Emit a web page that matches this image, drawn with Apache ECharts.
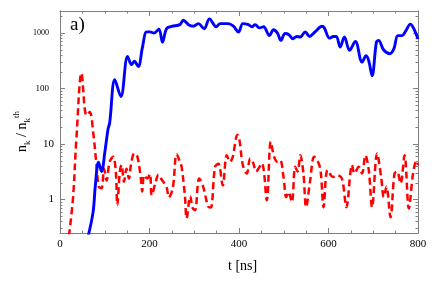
<!DOCTYPE html>
<html><head><meta charset="utf-8">
<script src="https://cdn.jsdelivr.net/npm/echarts@6/dist/echarts.min.js"></script>
<style>html,body{margin:0;padding:0;background:#fff}#c{width:436px;height:281px}</style>
</head><body><div id="c"></div>
<script>
var blueT=[63,74,79,86,93,100,107.5,111,122.5,136,151,160,166,175,184,193.5,201,210,221,229,238,249.5,268,275.5,288,298,309,322,334,349,358,376,387.5,399,408.5,421,428.7,436,446,455,468,477,486,493.5,503,511,520.5,529,537,548,557.7,570,585.5,590.6,602.5,611,617.5,626,635.5,647,660,675,684,690,697.4,707,712,723,737,746,755,764.5,772,783,790.6,800];
var blueV=[0.22,0.6,1.8,4.7,3.2,7,19,24,144,72,380,270,310,250,540,1050,1050,1000,1180,680,1200,1320,1420,1700,1400,1330,1480,1200,1800,1300,1480,1480,1330,1040,1480,1420,1300,1420,1240,1300,900,1150,1000,740,980,940,790,870,850,1050,870,1050,1330,1240,810,870,870,560,850,490,710,300,390,315,170,680,740,500,425,520,900,900,1070,1450,1200,780];
var redT=[20,29,36.7,48,59,66.5,74,81.5,86.7,92.7,98.5,104,111,118.7,124.7,128,133.7,137.5,143,148.7,154,158.5,166,173,180.7,183.7,188,195,201,205,214,220,227,238,243,252,260.7,268,272,279,283,291,296.5,301.7,311,320,331,337,346.5,354,363.7,372.7,380,386,396.5,401,408.5,417.5,425,432,438,451,462,471,478.5,486,492,499.5,505.5,510.7,518,525.6,531,537,544,550,559,568,578,583,589,598,610,619,630,640,652.6,658,667.5,675,682.5,690,697.4,708.6,717.6,723.5,729.5,738.5,747.5,753.4,761,770,779.5,789,796.6,800];
var redV=[0.22,1.05,12.7,190,33,38,16.7,4.2,1.7,1.6,3.6,2.2,4.8,5.9,3.2,0.8,3.2,4.2,2.1,3.6,2.4,4.2,6.8,5.9,2.4,1.4,2.75,2.4,2.9,1.2,2.1,2.8,2.3,1.7,1.1,1.6,6.6,4.8,3.8,1.2,0.46,1.15,0.7,0.64,2.4,1.7,0.75,0.72,3.9,4.4,1.8,6.3,4.8,5.9,14.8,11.8,4.2,2.95,5.5,4.5,3.2,4.5,0.97,11,5.9,4.8,5.1,2.56,1.11,1.37,0.9,3.9,3.2,6.3,2.95,0.73,2.2,5.9,4.5,2.95,0.73,3.4,2.56,2.75,2.4,0.73,4.2,2.95,3.9,2.95,6.3,3.4,0.73,6.8,2.56,1.11,1.7,0.48,2.95,3.2,1.95,6.3,0.69,2.95,5,4.2];
var xTicks=[0,200,400,600,800];
var yTicks=[1,10,100,1000];

function pairs(t,v){return t.map(function(x,i){return [x,v[i]];});}
var minorY=[];
[0.1,1,10,100,1000].forEach(function(d){for(var m=2;m<=9;m++){var v=m*d;if(v>=0.25&&v<=2500)minorY.push(v);}});
var FONT='Liberation Serif';
var AX='#808080';
function yAx(pos,major,labels){
  return {type:'log',logBase:10,min:0.25,max:2500,position:pos,
    axisLine:{show:true,lineStyle:{color:AX,width:1}},
    axisTick:{show:true,inside:true,length:major?5:2.5,customValues:major?yTicks:minorY,lineStyle:{color:AX}},
    axisLabel:labels?{show:true,customValues:yTicks,margin:6,color:'#000',
      formatter:function(v){var k=v>=1000?'a':(v>=100?'b':'c');return '{'+k+'|'+v+'}';},
      rich:{a:{fontFamily:FONT,fontSize:8,color:'#000',padding:[0,5,0,0]},b:{fontFamily:FONT,fontSize:9,color:'#000',padding:[0,5,0,0]},c:{fontFamily:FONT,fontSize:11,color:'#000'}}}:{show:false},
    splitLine:{show:false},minorTick:{show:false}};
}
function xAx(pos,labels){
  return {type:'value',min:0,max:800,interval:200,position:pos,
    axisLine:{show:true,lineStyle:{color:AX,width:1}},
    axisTick:{show:true,inside:true,length:5,lineStyle:{color:AX}},
    minorTick:{show:true,splitNumber:4,length:2.5,lineStyle:{color:AX}},
    axisLabel:labels?{show:true,margin:6,fontFamily:FONT,fontSize:11,color:'#000'}:{show:false},
    splitLine:{show:false},minorSplitLine:{show:false}};
}
var chart=echarts.init(document.getElementById('c'),null,{renderer:'canvas'});
chart.setOption({
  animation:false,
  grid:{left:60,right:18,top:11,bottom:48,containLabel:false},
  xAxis:[xAx('bottom',true),xAx('top',false)],
  yAxis:[yAx('left',true,true),yAx('left',false,false),yAx('right',true,false),yAx('right',false,false)],
  series:[
    {type:'line',data:pairs(blueT,blueV),xAxisIndex:0,yAxisIndex:0,showSymbol:false,smooth:0.35,
      lineStyle:{color:'#0000ff',width:2.9},clip:true,z:3},
    {type:'line',data:pairs(redT,redV),xAxisIndex:0,yAxisIndex:0,showSymbol:false,smooth:0.35,
      lineStyle:{color:'#ff0000',width:2.5,type:[7,4]},clip:true,z:2}
  ],
  graphic:[
    {type:'text',left:70,top:16,style:{text:'a)',font:'19px "Liberation Serif"',fill:'#000'}},
    {type:'text',left:228,top:259,style:{text:'t [ns]',font:'14px "Liberation Serif"',fill:'#000'}},
    {type:'text',x:12,y:152,rotation:Math.PI/2,
      style:{text:'{n|n}{s|k}{n| / n}{s|k}{p|th}',fill:'#000',
        rich:{n:{fontFamily:FONT,fontSize:14,lineHeight:20,verticalAlign:'middle',color:'#000'},
              s:{fontFamily:FONT,fontSize:9,lineHeight:20,verticalAlign:'bottom',color:'#000'},
              p:{fontFamily:FONT,fontSize:9,lineHeight:20,verticalAlign:'top',color:'#000'}}}}
  ]
});
</script></body></html>
